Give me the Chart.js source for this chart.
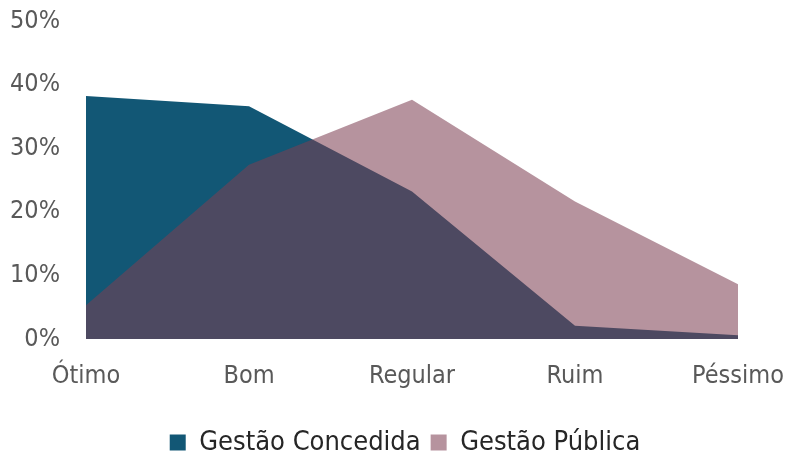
<!DOCTYPE html>
<html>
<head>
<meta charset="utf-8">
<script src="https://cdn.jsdelivr.net/npm/chart.js@4/dist/chart.umd.min.js"></script>
<style>
  html, body { margin: 0; padding: 0; background: #fff; }
  #wrap { width: 790px; height: 460px; }
</style>
</head>
<body>
<div id="wrap"><canvas id="chart"></canvas></div>
<script>
const categories = ["Ótimo", "Bom", "Regular", "Ruim", "Péssimo"]
const gestaoConcedida = [38.2, 36.6, 23.2, 2.1, 0.6]
const gestaoPublica = [5.3, 27.4, 37.6, 21.6, 8.6]
const yTicks = [0, 10, 20, 30, 40, 50]

const fontFamily = "'Liberation Sans Narrow', 'DejaVu Sans Condensed', sans-serif"
const axisFont = { family: fontFamily, size: 25 }
const legendFont = { family: fontFamily, size: 27 }

// legend is centred under the plot area, a little lower than chart.js puts it
const legendShift = {
  id: "legendShift",
  afterLayout(chart) {
    const legend = chart.legend
    legend.left += 36
    legend.right += 36
    legend.top += 6
    legend.bottom += 6
  }
}

new Chart(document.getElementById("chart"), {
  type: "line",
  data: {
    labels: categories,
    datasets: [
      {
        label: "Gestão Pública",
        data: gestaoPublica,
        backgroundColor: "rgba(125, 62, 82, 0.56)",
        borderWidth: 0,
        pointRadius: 0,
        fill: "origin"
      },
      {
        label: "Gestão Concedida",
        data: gestaoConcedida,
        backgroundColor: "#125775",
        borderWidth: 0,
        pointRadius: 0,
        fill: "origin"
      }
    ]
  },
  options: {
    responsive: true,
    maintainAspectRatio: false,
    animation: false,
    layout: { padding: { top: 21, right: 52, bottom: 0, left: 0 } },
    plugins: {
      legend: {
        position: "bottom",
        reverse: true,
        labels: {
          color: "#262626",
          font: legendFont,
          boxWidth: 16,
          boxHeight: 16,
          padding: 10
        }
      },
      tooltip: { enabled: false }
    },
    scales: {
      x: {
        afterFit: (scale) => { scale.paddingLeft = 0; scale.paddingRight = 0 },
        grid: { display: false, drawTicks: false },
        border: { display: false },
        ticks: { color: "#595959", font: axisFont, padding: 22, maxRotation: 0 }
      },
      y: {
        min: 0,
        max: 50,
        afterFit: (scale) => { scale.width = 86; scale.paddingTop = 0; scale.paddingBottom = 0 },
        afterBuildTicks: (scale) => { scale.ticks = yTicks.map(v => ({ value: v })) },
        grid: { display: false, drawTicks: false },
        border: { display: false },
        ticks: { color: "#595959", font: axisFont, padding: 26, callback: v => v + "%" }
      }
    }
  },
  plugins: [legendShift]
})
</script>
</body>
</html>
